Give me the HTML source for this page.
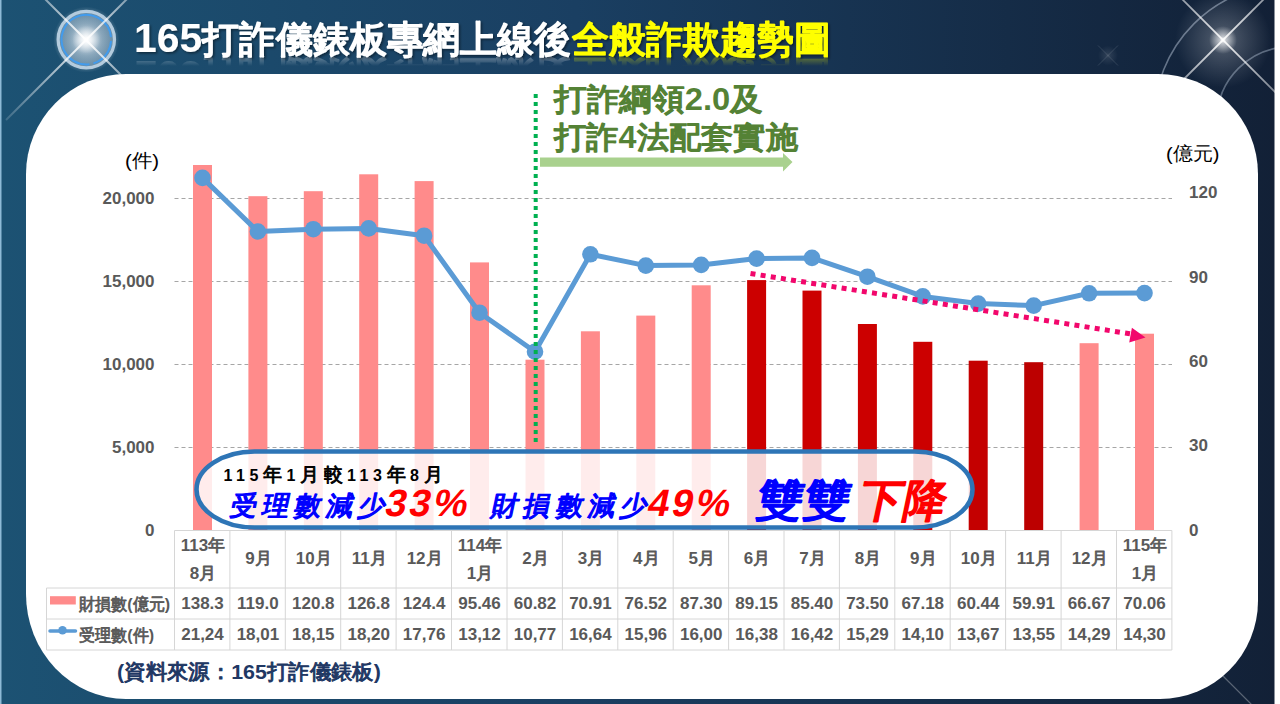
<!DOCTYPE html>
<html><head><meta charset="utf-8">
<style>
html,body{margin:0;padding:0;}
body{width:1280px;height:704px;overflow:hidden;position:relative;background:#fff;font-family:"Liberation Sans",sans-serif;}
svg{position:absolute;left:0;top:0;}
text{font-family:"Liberation Sans",sans-serif;}
.ax{font-weight:bold;font-size:17px;fill:#595959;}
.tm{font-weight:bold;font-size:17px;fill:#595959;}
.tn{font-weight:bold;font-size:17px;fill:#595959;}
.tl{font-weight:bold;font-size:17px;fill:#595959;}
.unit{font-size:19px;fill:#000;}
</style></head><body>
<svg width="1280" height="704" viewBox="0 0 1280 704">
<defs>
<linearGradient id="bg" x1="0" y1="0" x2="1" y2="0">
<stop offset="0" stop-color="#1c5273"/>
<stop offset="0.45" stop-color="#1a3f62"/>
<stop offset="1" stop-color="#122036"/>
</linearGradient>
<radialGradient id="glow">
<stop offset="0" stop-color="#fff" stop-opacity="1"/>
<stop offset="0.25" stop-color="#fff" stop-opacity="0.6"/>
<stop offset="1" stop-color="#fff" stop-opacity="0"/>
</radialGradient>
<radialGradient id="glow2">
<stop offset="0" stop-color="#fff" stop-opacity="1"/>
<stop offset="0.2" stop-color="#f4f8fc" stop-opacity="0.8"/>
<stop offset="0.6" stop-color="#c9dbea" stop-opacity="0.45"/>
<stop offset="1" stop-color="#9ab8d2" stop-opacity="0.3"/>
</radialGradient>
<radialGradient id="halo">
<stop offset="0.8" stop-color="#fff" stop-opacity="0.25"/>
<stop offset="1" stop-color="#fff" stop-opacity="0"/>
</radialGradient>
<linearGradient id="ray1" gradientUnits="userSpaceOnUse" x1="16" y1="-30" x2="156" y2="110">
<stop offset="0" stop-color="#fff" stop-opacity="0.15"/><stop offset="0.5" stop-color="#fff" stop-opacity="0.9"/><stop offset="1" stop-color="#fff" stop-opacity="0.1"/>
</linearGradient>
<linearGradient id="ray2" gradientUnits="userSpaceOnUse" x1="156" y1="-30" x2="6" y2="120">
<stop offset="0" stop-color="#fff" stop-opacity="0.15"/><stop offset="0.47" stop-color="#fff" stop-opacity="0.9"/><stop offset="1" stop-color="#fff" stop-opacity="0.15"/>
</linearGradient>
<linearGradient id="ray3" gradientUnits="userSpaceOnUse" x1="1143" y1="-40" x2="1303" y2="120">
<stop offset="0" stop-color="#fff" stop-opacity="0.2"/><stop offset="0.5" stop-color="#fff" stop-opacity="0.9"/><stop offset="1" stop-color="#fff" stop-opacity="0.2"/>
</linearGradient>
<linearGradient id="ray4" gradientUnits="userSpaceOnUse" x1="1303" y1="-40" x2="1143" y2="120">
<stop offset="0" stop-color="#fff" stop-opacity="0.2"/><stop offset="0.5" stop-color="#fff" stop-opacity="0.9"/><stop offset="1" stop-color="#fff" stop-opacity="0.15"/>
</linearGradient>
<linearGradient id="rgrad" gradientUnits="userSpaceOnUse" x1="0" y1="56" x2="0" y2="66"><stop offset="0" stop-color="#fff" stop-opacity="1"/><stop offset="1" stop-color="#fff" stop-opacity="0"/></linearGradient>
<mask id="rmask" maskUnits="userSpaceOnUse" x="0" y="0" width="1280" height="80"><rect x="0" y="56" width="1280" height="12" fill="url(#rgrad)"/></mask>
<filter id="tsh" x="-5%" y="-20%" width="110%" height="150%"><feDropShadow dx="1.5" dy="1.5" stdDeviation="1" flood-color="#000" flood-opacity="0.45"/></filter>
</defs>
<rect x="0" y="0" width="1280" height="704" fill="url(#bg)"/>
<rect x="0" y="0" width="1.5" height="704" fill="#8ebad6"/>
<g>
<circle cx="86.3" cy="39.6" r="33" fill="url(#halo)"/>
<circle cx="86.3" cy="39.6" r="27" fill="url(#glow2)"/>
<circle cx="86.3" cy="39.6" r="28.2" fill="none" stroke="#c8dcec" stroke-width="3.2" opacity="0.85"/>
<circle cx="86.3" cy="39.6" r="24.8" fill="none" stroke="#3f9cf0" stroke-width="2" opacity="0.95" stroke-dasharray="62,4,30,4" transform="rotate(-150 86.3 39.6)"/>
<line x1="16" y1="-30" x2="156" y2="110" stroke="url(#ray1)" stroke-width="2"/>
<line x1="156" y1="-30" x2="6" y2="120" stroke="url(#ray2)" stroke-width="2"/>
<circle cx="86.3" cy="39.6" r="14" fill="url(#glow)"/>
</g>
<g>
<path d="M1154 120 A136 136 0 0 1 1290 -16" fill="none" stroke="#8796aa" stroke-width="1.6" opacity="0.7"/>
<path d="M1217 120 A73 73 0 0 1 1290 47" fill="none" stroke="#8796aa" stroke-width="1.6" opacity="0.6"/>
<circle cx="1223" cy="40" r="48" fill="url(#glow)" opacity="0.35"/>
<line x1="1143" y1="-40" x2="1303" y2="120" stroke="url(#ray3)" stroke-width="1.8"/>
<line x1="1303" y1="-40" x2="1143" y2="120" stroke="url(#ray4)" stroke-width="1.8"/>
<circle cx="1223" cy="40" r="14" fill="url(#glow)"/>
<circle cx="1108" cy="55.5" r="10" fill="url(#glow)" opacity="0.15"/>
<line x1="1098" y1="45.5" x2="1118" y2="65.5" stroke="#fff" stroke-width="1" opacity="0.12"/>
<line x1="1118" y1="45.5" x2="1098" y2="65.5" stroke="#fff" stroke-width="1" opacity="0.12"/>
<line x1="1219" y1="672" x2="1254" y2="707" stroke="#fff" stroke-width="1.2" opacity="0.3"/>
</g>
<rect x="1274.5" y="0" width="6" height="704" fill="#fff"/>
<path d="M126 74 H1158 A100 100 0 0 1 1258 174 V601 A98 98 0 0 1 1160 699 H126 A100 105 0 0 1 26 594 V174 A100 100 0 0 1 126 74 Z" fill="#fff"/>

<line x1="174.5" y1="447.5" x2="1172" y2="447.5" stroke="#a6a6a6" stroke-width="1" stroke-dasharray="4,3"/>
<line x1="174.5" y1="364.5" x2="1172" y2="364.5" stroke="#a6a6a6" stroke-width="1" stroke-dasharray="4,3"/>
<line x1="174.5" y1="281.5" x2="1172" y2="281.5" stroke="#a6a6a6" stroke-width="1" stroke-dasharray="4,3"/>
<line x1="174.5" y1="198.5" x2="1172" y2="198.5" stroke="#a6a6a6" stroke-width="1" stroke-dasharray="4,3"/>
<rect x="193.0" y="165.0" width="19" height="365.5" fill="#ff8b8b"/>
<rect x="248.4" y="196.2" width="19" height="334.3" fill="#ff8b8b"/>
<rect x="303.8" y="191.2" width="19" height="339.3" fill="#ff8b8b"/>
<rect x="359.2" y="174.3" width="19" height="356.2" fill="#ff8b8b"/>
<rect x="414.6" y="181.1" width="19" height="349.4" fill="#ff8b8b"/>
<rect x="470.0" y="262.4" width="19" height="268.1" fill="#ff8b8b"/>
<rect x="525.5" y="359.7" width="19" height="170.8" fill="#ff8b8b"/>
<rect x="580.9" y="331.3" width="19" height="199.2" fill="#ff8b8b"/>
<rect x="636.3" y="315.6" width="19" height="214.9" fill="#ff8b8b"/>
<rect x="691.7" y="285.3" width="19" height="245.2" fill="#ff8b8b"/>
<rect x="747.1" y="280.1" width="19" height="250.4" fill="#cc0000"/>
<rect x="802.5" y="290.6" width="19" height="239.9" fill="#cc0000"/>
<rect x="857.9" y="324.0" width="19" height="206.5" fill="#cc0000"/>
<rect x="913.3" y="341.8" width="19" height="188.7" fill="#cc0000"/>
<rect x="968.7" y="360.7" width="19" height="169.8" fill="#c40000"/>
<rect x="1024.2" y="362.2" width="19" height="168.3" fill="#bc0000"/>
<rect x="1079.6" y="343.2" width="19" height="187.3" fill="#ff8b8b"/>
<rect x="1135.0" y="333.7" width="19" height="196.8" fill="#ff8b8b"/>
<polyline points="202.5,177.9 257.9,231.5 313.3,229.2 368.7,228.4 424.1,235.7 479.5,312.7 535.0,351.7 590.4,254.3 645.8,265.6 701.2,264.9 756.6,258.6 812.0,257.9 867.4,276.7 922.8,296.4 978.2,303.6 1033.7,305.6 1089.1,293.3 1144.5,293.1" fill="none" stroke="#5b9bd5" stroke-width="5" stroke-linejoin="round"/>
<circle cx="202.5" cy="177.9" r="8.3" fill="#5b9bd5"/>
<circle cx="257.9" cy="231.5" r="8.3" fill="#5b9bd5"/>
<circle cx="313.3" cy="229.2" r="8.3" fill="#5b9bd5"/>
<circle cx="368.7" cy="228.4" r="8.3" fill="#5b9bd5"/>
<circle cx="424.1" cy="235.7" r="8.3" fill="#5b9bd5"/>
<circle cx="479.5" cy="312.7" r="8.3" fill="#5b9bd5"/>
<circle cx="535.0" cy="351.7" r="8.3" fill="#5b9bd5"/>
<circle cx="590.4" cy="254.3" r="8.3" fill="#5b9bd5"/>
<circle cx="645.8" cy="265.6" r="8.3" fill="#5b9bd5"/>
<circle cx="701.2" cy="264.9" r="8.3" fill="#5b9bd5"/>
<circle cx="756.6" cy="258.6" r="8.3" fill="#5b9bd5"/>
<circle cx="812.0" cy="257.9" r="8.3" fill="#5b9bd5"/>
<circle cx="867.4" cy="276.7" r="8.3" fill="#5b9bd5"/>
<circle cx="922.8" cy="296.4" r="8.3" fill="#5b9bd5"/>
<circle cx="978.2" cy="303.6" r="8.3" fill="#5b9bd5"/>
<circle cx="1033.7" cy="305.6" r="8.3" fill="#5b9bd5"/>
<circle cx="1089.1" cy="293.3" r="8.3" fill="#5b9bd5"/>
<circle cx="1144.5" cy="293.1" r="8.3" fill="#5b9bd5"/>
<text x="154.5" y="535.5" text-anchor="end" class="ax">0</text>
<text x="154.5" y="452.5" text-anchor="end" class="ax">5,000</text>
<text x="154.5" y="369.5" text-anchor="end" class="ax">10,000</text>
<text x="154.5" y="286.5" text-anchor="end" class="ax">15,000</text>
<text x="154.5" y="203.5" text-anchor="end" class="ax">20,000</text>
<text x="1189" y="535.5" class="ax">0</text>
<text x="1189" y="451.2" class="ax">30</text>
<text x="1189" y="367.0" class="ax">60</text>
<text x="1189" y="282.7" class="ax">90</text>
<text x="1189" y="198.4" class="ax">120</text>
<text x="125" y="166.5" class="unit" textLength="34" lengthAdjust="spacingAndGlyphs">(件)</text>
<text x="1166" y="160" class="unit" textLength="53.5" lengthAdjust="spacingAndGlyphs">(億元)</text>
<line x1="174.5" y1="530.5" x2="1171.9" y2="530.5" stroke="#d6d6d6"/>
<line x1="46.5" y1="588" x2="1171.9" y2="588" stroke="#d6d6d6"/>
<line x1="46.5" y1="619" x2="1171.9" y2="619" stroke="#d6d6d6"/>
<line x1="46.5" y1="650" x2="1171.9" y2="650" stroke="#d6d6d6"/>
<line x1="46.5" y1="588" x2="46.5" y2="650" stroke="#d6d6d6"/>
<line x1="174.5" y1="530.5" x2="174.5" y2="650" stroke="#d6d6d6"/>
<line x1="229.9" y1="530.5" x2="229.9" y2="650" stroke="#d6d6d6"/>
<line x1="285.3" y1="530.5" x2="285.3" y2="650" stroke="#d6d6d6"/>
<line x1="340.7" y1="530.5" x2="340.7" y2="650" stroke="#d6d6d6"/>
<line x1="396.1" y1="530.5" x2="396.1" y2="650" stroke="#d6d6d6"/>
<line x1="451.5" y1="530.5" x2="451.5" y2="650" stroke="#d6d6d6"/>
<line x1="507.0" y1="530.5" x2="507.0" y2="650" stroke="#d6d6d6"/>
<line x1="562.4" y1="530.5" x2="562.4" y2="650" stroke="#d6d6d6"/>
<line x1="617.8" y1="530.5" x2="617.8" y2="650" stroke="#d6d6d6"/>
<line x1="673.2" y1="530.5" x2="673.2" y2="650" stroke="#d6d6d6"/>
<line x1="728.6" y1="530.5" x2="728.6" y2="650" stroke="#d6d6d6"/>
<line x1="784.0" y1="530.5" x2="784.0" y2="650" stroke="#d6d6d6"/>
<line x1="839.4" y1="530.5" x2="839.4" y2="650" stroke="#d6d6d6"/>
<line x1="894.8" y1="530.5" x2="894.8" y2="650" stroke="#d6d6d6"/>
<line x1="950.2" y1="530.5" x2="950.2" y2="650" stroke="#d6d6d6"/>
<line x1="1005.6" y1="530.5" x2="1005.6" y2="650" stroke="#d6d6d6"/>
<line x1="1061.1" y1="530.5" x2="1061.1" y2="650" stroke="#d6d6d6"/>
<line x1="1116.5" y1="530.5" x2="1116.5" y2="650" stroke="#d6d6d6"/>
<line x1="1171.9" y1="530.5" x2="1171.9" y2="650" stroke="#d6d6d6"/>
<text x="203.0" y="551" text-anchor="middle" class="tm">113<tspan font-weight="normal" stroke="#595959" stroke-width="0.8" stroke-linejoin="round">年</tspan></text>
<text x="203.0" y="578.5" text-anchor="middle" class="tm">8<tspan font-weight="normal" stroke="#595959" stroke-width="0.8" stroke-linejoin="round">月</tspan></text>
<text x="202.5" y="609.2" text-anchor="middle" class="tn">138.3</text>
<text x="202.5" y="640.2" text-anchor="middle" class="tn">21,24</text>
<text x="258.4" y="564" text-anchor="middle" class="tm">9<tspan font-weight="normal" stroke="#595959" stroke-width="0.8" stroke-linejoin="round">月</tspan></text>
<text x="257.9" y="609.2" text-anchor="middle" class="tn">119.0</text>
<text x="257.9" y="640.2" text-anchor="middle" class="tn">18,01</text>
<text x="313.8" y="564" text-anchor="middle" class="tm">10<tspan font-weight="normal" stroke="#595959" stroke-width="0.8" stroke-linejoin="round">月</tspan></text>
<text x="313.3" y="609.2" text-anchor="middle" class="tn">120.8</text>
<text x="313.3" y="640.2" text-anchor="middle" class="tn">18,15</text>
<text x="369.2" y="564" text-anchor="middle" class="tm">11<tspan font-weight="normal" stroke="#595959" stroke-width="0.8" stroke-linejoin="round">月</tspan></text>
<text x="368.7" y="609.2" text-anchor="middle" class="tn">126.8</text>
<text x="368.7" y="640.2" text-anchor="middle" class="tn">18,20</text>
<text x="424.6" y="564" text-anchor="middle" class="tm">12<tspan font-weight="normal" stroke="#595959" stroke-width="0.8" stroke-linejoin="round">月</tspan></text>
<text x="424.1" y="609.2" text-anchor="middle" class="tn">124.4</text>
<text x="424.1" y="640.2" text-anchor="middle" class="tn">17,76</text>
<text x="480.0" y="551" text-anchor="middle" class="tm">114<tspan font-weight="normal" stroke="#595959" stroke-width="0.8" stroke-linejoin="round">年</tspan></text>
<text x="480.0" y="578.5" text-anchor="middle" class="tm">1<tspan font-weight="normal" stroke="#595959" stroke-width="0.8" stroke-linejoin="round">月</tspan></text>
<text x="479.5" y="609.2" text-anchor="middle" class="tn">95.46</text>
<text x="479.5" y="640.2" text-anchor="middle" class="tn">13,12</text>
<text x="535.5" y="564" text-anchor="middle" class="tm">2<tspan font-weight="normal" stroke="#595959" stroke-width="0.8" stroke-linejoin="round">月</tspan></text>
<text x="535.0" y="609.2" text-anchor="middle" class="tn">60.82</text>
<text x="535.0" y="640.2" text-anchor="middle" class="tn">10,77</text>
<text x="590.9" y="564" text-anchor="middle" class="tm">3<tspan font-weight="normal" stroke="#595959" stroke-width="0.8" stroke-linejoin="round">月</tspan></text>
<text x="590.4" y="609.2" text-anchor="middle" class="tn">70.91</text>
<text x="590.4" y="640.2" text-anchor="middle" class="tn">16,64</text>
<text x="646.3" y="564" text-anchor="middle" class="tm">4<tspan font-weight="normal" stroke="#595959" stroke-width="0.8" stroke-linejoin="round">月</tspan></text>
<text x="645.8" y="609.2" text-anchor="middle" class="tn">76.52</text>
<text x="645.8" y="640.2" text-anchor="middle" class="tn">15,96</text>
<text x="701.7" y="564" text-anchor="middle" class="tm">5<tspan font-weight="normal" stroke="#595959" stroke-width="0.8" stroke-linejoin="round">月</tspan></text>
<text x="701.2" y="609.2" text-anchor="middle" class="tn">87.30</text>
<text x="701.2" y="640.2" text-anchor="middle" class="tn">16,00</text>
<text x="757.1" y="564" text-anchor="middle" class="tm">6<tspan font-weight="normal" stroke="#595959" stroke-width="0.8" stroke-linejoin="round">月</tspan></text>
<text x="756.6" y="609.2" text-anchor="middle" class="tn">89.15</text>
<text x="756.6" y="640.2" text-anchor="middle" class="tn">16,38</text>
<text x="812.5" y="564" text-anchor="middle" class="tm">7<tspan font-weight="normal" stroke="#595959" stroke-width="0.8" stroke-linejoin="round">月</tspan></text>
<text x="812.0" y="609.2" text-anchor="middle" class="tn">85.40</text>
<text x="812.0" y="640.2" text-anchor="middle" class="tn">16,42</text>
<text x="867.9" y="564" text-anchor="middle" class="tm">8<tspan font-weight="normal" stroke="#595959" stroke-width="0.8" stroke-linejoin="round">月</tspan></text>
<text x="867.4" y="609.2" text-anchor="middle" class="tn">73.50</text>
<text x="867.4" y="640.2" text-anchor="middle" class="tn">15,29</text>
<text x="923.3" y="564" text-anchor="middle" class="tm">9<tspan font-weight="normal" stroke="#595959" stroke-width="0.8" stroke-linejoin="round">月</tspan></text>
<text x="922.8" y="609.2" text-anchor="middle" class="tn">67.18</text>
<text x="922.8" y="640.2" text-anchor="middle" class="tn">14,10</text>
<text x="978.7" y="564" text-anchor="middle" class="tm">10<tspan font-weight="normal" stroke="#595959" stroke-width="0.8" stroke-linejoin="round">月</tspan></text>
<text x="978.2" y="609.2" text-anchor="middle" class="tn">60.44</text>
<text x="978.2" y="640.2" text-anchor="middle" class="tn">13,67</text>
<text x="1034.2" y="564" text-anchor="middle" class="tm">11<tspan font-weight="normal" stroke="#595959" stroke-width="0.8" stroke-linejoin="round">月</tspan></text>
<text x="1033.7" y="609.2" text-anchor="middle" class="tn">59.91</text>
<text x="1033.7" y="640.2" text-anchor="middle" class="tn">13,55</text>
<text x="1089.6" y="564" text-anchor="middle" class="tm">12<tspan font-weight="normal" stroke="#595959" stroke-width="0.8" stroke-linejoin="round">月</tspan></text>
<text x="1089.1" y="609.2" text-anchor="middle" class="tn">66.67</text>
<text x="1089.1" y="640.2" text-anchor="middle" class="tn">14,29</text>
<text x="1145.0" y="551" text-anchor="middle" class="tm">115<tspan font-weight="normal" stroke="#595959" stroke-width="0.8" stroke-linejoin="round">年</tspan></text>
<text x="1145.0" y="578.5" text-anchor="middle" class="tm">1<tspan font-weight="normal" stroke="#595959" stroke-width="0.8" stroke-linejoin="round">月</tspan></text>
<text x="1144.5" y="609.2" text-anchor="middle" class="tn">70.06</text>
<text x="1144.5" y="640.2" text-anchor="middle" class="tn">14,30</text>
<rect x="50" y="596.2" width="25.8" height="8.3" fill="#ff8b8b"/>
<line x1="50" y1="631" x2="75.5" y2="631" stroke="#5b9bd5" stroke-width="3.5" stroke-linecap="round"/><circle cx="62.5" cy="630.2" r="4.3" fill="#5b9bd5"/>
<text x="79" y="609.5" class="tl" textLength="91" lengthAdjust="spacingAndGlyphs"><tspan font-weight="normal" stroke="#595959" stroke-width="0.8" stroke-linejoin="round">財損數</tspan>(<tspan font-weight="normal" stroke="#595959" stroke-width="0.8" stroke-linejoin="round">億元</tspan>)</text>
<text x="79" y="640.5" class="tl" textLength="75" lengthAdjust="spacingAndGlyphs"><tspan font-weight="normal" stroke="#595959" stroke-width="0.8" stroke-linejoin="round">受理數</tspan>(<tspan font-weight="normal" stroke="#595959" stroke-width="0.8" stroke-linejoin="round">件</tspan>)</text>
<g mask="url(#rmask)" opacity="0.35"><g transform="translate(0,113) scale(1,-1)">
<text x="134" y="52" font-weight="bold" font-size="37" fill="#fff" textLength="437" lengthAdjust="spacingAndGlyphs"><tspan font-size="41">165</tspan><tspan font-weight="normal" stroke="#fff" stroke-width="1.9" stroke-linejoin="round">打詐儀錶板專網上線後</tspan></text>
<text x="572" y="52" font-weight="bold" font-size="37" fill="#ffff00" textLength="259" lengthAdjust="spacingAndGlyphs"><tspan font-weight="normal" stroke="#ffff00" stroke-width="1.9" stroke-linejoin="round">全般詐欺趨勢圖</tspan></text>
</g></g>
<g filter="url(#tsh)">
<text x="134" y="52" font-weight="bold" font-size="37" fill="#fff" textLength="437" lengthAdjust="spacingAndGlyphs"><tspan font-size="41">165</tspan><tspan font-weight="normal" stroke="#fff" stroke-width="1.9" stroke-linejoin="round">打詐儀錶板專網上線後</tspan></text>
<text x="572" y="52" font-weight="bold" font-size="37" fill="#ffff00" textLength="259" lengthAdjust="spacingAndGlyphs"><tspan font-weight="normal" stroke="#ffff00" stroke-width="1.9" stroke-linejoin="round">全般詐欺趨勢圖</tspan></text>
</g>
<text x="554" y="110" font-weight="bold" font-size="31" fill="#548235" textLength="209" lengthAdjust="spacingAndGlyphs"><tspan font-weight="normal" stroke="#548235" stroke-width="1.5" stroke-linejoin="round">打詐綱領</tspan>2.0<tspan font-weight="normal" stroke="#548235" stroke-width="1.5" stroke-linejoin="round">及</tspan></text>
<text x="554" y="148" font-weight="bold" font-size="31" fill="#548235" textLength="244" lengthAdjust="spacingAndGlyphs"><tspan font-weight="normal" stroke="#548235" stroke-width="1.5" stroke-linejoin="round">打詐</tspan>4<tspan font-weight="normal" stroke="#548235" stroke-width="1.5" stroke-linejoin="round">法配套實施</tspan></text>
<path d="M540 157.5 H783 V153 L792.5 162 L783 171.4 V166.7 H540 Z" fill="#a9d18e"/>
<line x1="535.7" y1="94" x2="535.7" y2="446" stroke="#00b050" stroke-width="4" stroke-dasharray="4,4"/>
<line x1="750.5" y1="273.5" x2="1131" y2="334" stroke="#f2076c" stroke-width="5" stroke-dasharray="5,5.25"/>
<path d="M1145.5 337.5 L1131.9 327.8 L1129.2 342.6 Z" fill="#f2076c"/>
<rect x="196.5" y="451.5" width="776" height="76" rx="58" ry="38" fill="#fff" fill-opacity="0.84" stroke="#2e75b6" stroke-width="4.6"/>
<text x="223.5" y="480.5" font-weight="bold" font-size="16" fill="#000" textLength="219" lengthAdjust="spacing">115<tspan font-size="19" font-weight="normal" stroke="#000" stroke-width="0.9" stroke-linejoin="round">年</tspan>1<tspan font-size="19" font-weight="normal" stroke="#000" stroke-width="0.9" stroke-linejoin="round">月較</tspan>113<tspan font-size="19" font-weight="normal" stroke="#000" stroke-width="0.9" stroke-linejoin="round">年</tspan>8<tspan font-size="19" font-weight="normal" stroke="#000" stroke-width="0.9" stroke-linejoin="round">月</tspan></text>
<text transform="translate(229,514.5) skewX(-12)" x="0" y="0" font-weight="bold" font-size="27" fill="#0000ff" textLength="155" lengthAdjust="spacing"><tspan font-weight="normal" stroke="#0000ff" stroke-width="1.3" stroke-linejoin="round">受理數減少</tspan></text>
<text transform="translate(383.5,516) skewX(-12)" x="0" y="0" font-weight="bold" font-size="38" fill="#ff0000" textLength="82" lengthAdjust="spacing">33%</text>
<text transform="translate(490,515) skewX(-12)" x="0" y="0" font-weight="bold" font-size="27" fill="#0000ff" textLength="156" lengthAdjust="spacing"><tspan font-weight="normal" stroke="#0000ff" stroke-width="1.3" stroke-linejoin="round">財損數減少</tspan></text>
<text transform="translate(646,516) skewX(-12)" x="0" y="0" font-weight="bold" font-size="38" fill="#ff0000" textLength="82" lengthAdjust="spacing">49%</text>
<text transform="translate(754,516) skewX(-12)" x="0" y="0" font-weight="bold" font-size="45" fill="#0000ff" textLength="94" lengthAdjust="spacingAndGlyphs"><tspan font-weight="normal" stroke="#0000ff" stroke-width="2.2" stroke-linejoin="round">雙雙</tspan></text>
<text transform="translate(857,516) skewX(-12)" x="0" y="0" font-weight="bold" font-size="45" fill="#ff0000" textLength="87" lengthAdjust="spacingAndGlyphs"><tspan font-weight="normal" stroke="#ff0000" stroke-width="2.2" stroke-linejoin="round">下降</tspan></text>
<text x="117" y="679" font-weight="bold" font-size="21" fill="#1f3864" textLength="264" lengthAdjust="spacingAndGlyphs">(<tspan font-weight="normal" stroke="#1f3864" stroke-width="1.0" stroke-linejoin="round">資料來源：</tspan>165<tspan font-weight="normal" stroke="#1f3864" stroke-width="1.0" stroke-linejoin="round">打詐儀錶板</tspan>)</text>
</svg>
</body></html>
